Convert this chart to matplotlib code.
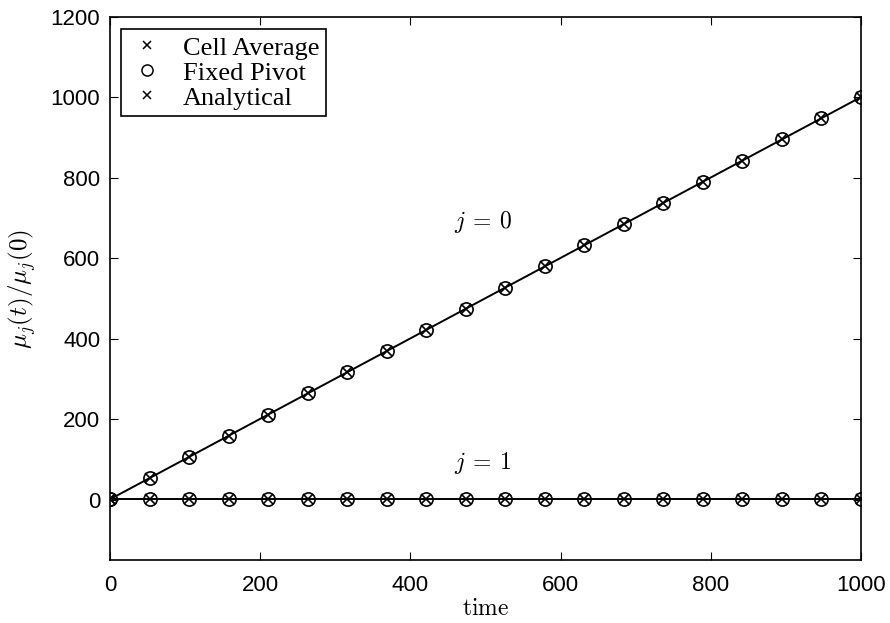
import matplotlib
matplotlib.use('Agg')
import matplotlib.pyplot as plt
from matplotlib.lines import Line2D

plt.rcParams['mathtext.fontset'] = 'cm'

# sample times and moment ratios
time = [0, 52.6, 105.3, 157.9, 210.5, 263.2, 315.8, 368.4, 421.1, 473.7,
        526.3, 578.9, 631.6, 684.2, 736.8, 789.5, 842.1, 894.7, 947.4, 1000]
cell_avg_j0 = [1, 53.6, 106.3, 158.9, 211.5, 264.2, 316.8, 369.4, 422.1, 474.7,
               527.3, 579.9, 632.6, 685.2, 737.8, 790.5, 843.1, 895.7, 948.4, 1001]
fixed_piv_j0 = [1, 53.6, 106.3, 158.9, 211.5, 264.2, 316.8, 369.4, 422.1, 474.7,
                527.3, 579.9, 632.6, 685.2, 737.8, 790.5, 843.1, 895.7, 948.4, 1001]
cell_avg_j1 = [1] * 20
fixed_piv_j1 = [1] * 20

analytic_t = [0, 1000]
analytic_j0 = [1, 1001]
analytic_j1 = [1, 1]

fig = plt.figure(figsize=(8.9, 6.23), dpi=100)
ax = fig.add_axes([0.1236, 0.1011, 0.8438, 0.8716])

ax.plot(analytic_t, analytic_j0, '-k', lw=1.4)
ax.plot(analytic_t, analytic_j1, '-k', lw=1.4)
for y in (cell_avg_j0, cell_avg_j1):
    ax.plot(time, y, 'kx', ms=7, mew=1.2)
for y in (fixed_piv_j0, fixed_piv_j1):
    ax.plot(time, y, 'ko', ms=9.5, mfc='none', mew=1.2)

ax.text(497, 691, r'$j\:=\:0$', fontsize=17, ha='center', va='center')
ax.text(497, 92, r'$j\:=\:1$', fontsize=17, ha='center', va='center')

ax.set_xlim(0, 1000)
ax.set_ylim(-150, 1200)
ax.set_xticks(range(0, 1001, 200))
ax.set_yticks(range(0, 1201, 200))
ax.tick_params(direction='in', labelsize=16, length=6, width=0.8,
               top=True, right=True)
ax.tick_params(axis='x', pad=11)
ax.tick_params(axis='y', pad=7)
for lab in ax.get_xticklabels() + ax.get_yticklabels():
    lab.set_family('Liberation Sans')
for s in ax.spines.values():
    s.set_linewidth(1.2)

ax.set_xlabel(r'$\mathrm{time}$', fontsize=17, labelpad=0)
ax.set_ylabel(r'$\mu_j(t)/\mu_j(0)$', fontsize=18, labelpad=9)

handles = [Line2D([], [], ls='none', marker='x', color='k', ms=6, mew=1.1),
           Line2D([], [], ls='none', marker='o', color='k', mfc='none', ms=8, mew=1.1),
           Line2D([], [], ls='none', marker='x', color='k', ms=6, mew=1.1)]
leg = ax.legend(handles, ['Cell Average', 'Fixed Pivot', 'Analytical'],
                loc='upper left', bbox_to_anchor=(0.0146, 0.977),
                prop={'family': 'Liberation Serif', 'size': 19},
                fancybox=False, edgecolor='k', framealpha=1,
                handlelength=1.5, handletextpad=0.6, labelspacing=0.06,
                borderpad=0.25, borderaxespad=0)
leg.get_frame().set_linewidth(1.2)

fig.savefig('out.png', dpi=100)
